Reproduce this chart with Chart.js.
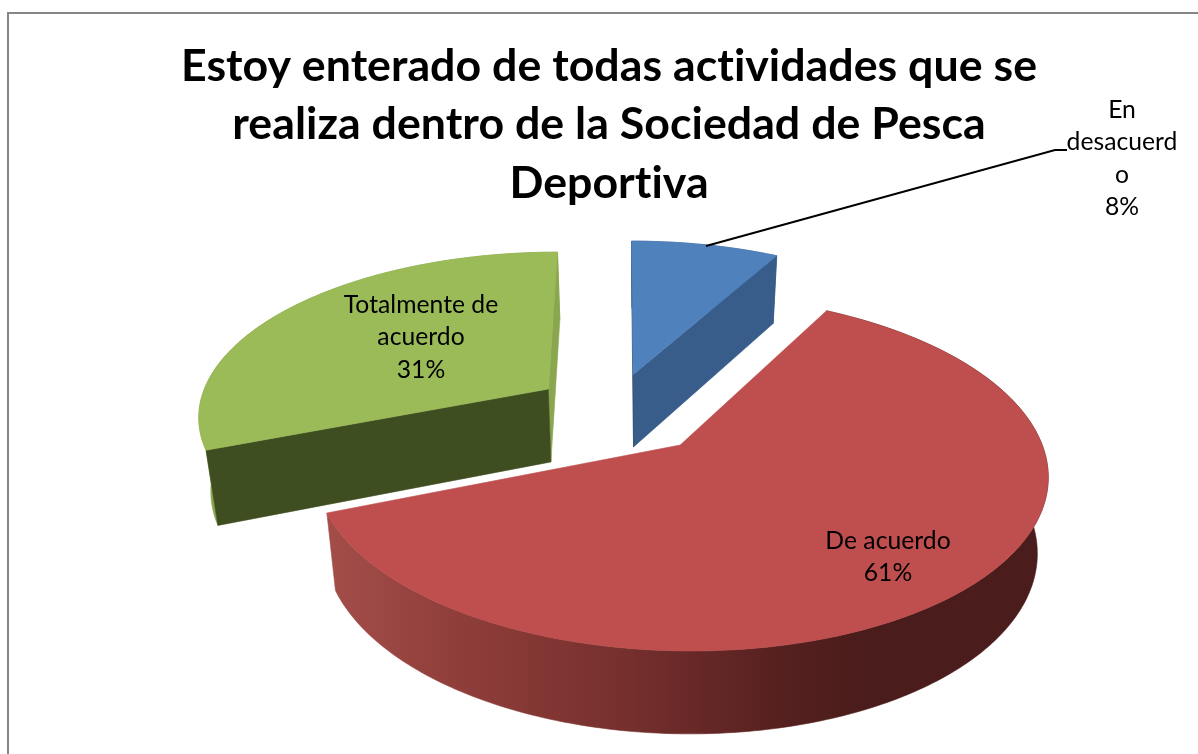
<!DOCTYPE html>
<html><head><meta charset="utf-8">
<style>
html,body{margin:0;padding:0;background:#fff;overflow:hidden}
#frame{position:absolute;left:7px;top:12px;width:1191px;height:742px;border-left:2px solid #868686;border-top:2px solid #868686;box-sizing:border-box}
canvas{position:absolute;left:0;top:0}
</style>
<script src="https://cdn.jsdelivr.net/npm/chart.js@4/dist/chart.umd.min.js"></script>
</head><body>
<div id="frame"></div>
<canvas id="c" width="1198" height="754"></canvas>
<script>
const categories = ["En desacuerdo", "De acuerdo", "Totalmente de acuerdo"];
const values = [8, 61, 31];
const percentLabels = ["8%", "61%", "31%"];
const wrappedNames = [["En", "desacuerd", "o"], ["De acuerdo"], ["Totalmente de", "acuerdo"]];
const titleLines = ["Estoy enterado de todas actividades que se", "realiza dentro de la Sociedad de Pesca", "Deportiva"];
const explode = [23, 27.9, 23];
const topColors = ["#4F81BD", "#BE4F4E", "#9BBB59"];
const startWallColors = ["#2F4D73", null, "#3F4E21"];
const endWallColors = ["#385D8A", null, "#8AA64F"];
const sideWallColors = ["#385D8A", null, "#8AA64F"];
const labelAnchors = [[1122, 110], [888, 541], [421, 305]];

// perspective of the pie plane, fitted to the picture
const P = {p:.155, k:1122.6, hx:620, hy:-677.6, R:362, ax:60, ou:.184, ov:-.209, wallA:32, wallB:43, vx:645, vs:.027};
function project(u, v){
  const V = v - P.ov, U = u - P.ou, w = 1 + P.p * V;
  return {x: P.hx + (P.ax + P.R * U) / w, y: P.hy + P.k / w, w};
}
function lower(pt){
  return {x: pt.x + (P.vx - pt.x) * P.vs, y: pt.y + P.wallA + P.wallB / pt.w};
}
function fillPoly(ctx, pts, fill){
  ctx.beginPath();
  pts.forEach((q,i)=> i ? ctx.lineTo(q.x,q.y) : ctx.moveTo(q.x,q.y));
  ctx.closePath();
  ctx.fillStyle = fill; ctx.fill();
  ctx.strokeStyle = fill; ctx.lineWidth = .6; ctx.stroke();
}
function redWall(ctx){
  const g = ctx.createLinearGradient(330,0,1045,0);
  g.addColorStop(0,"#A34D49"); g.addColorStop(.18,"#8F3E3A"); g.addColorStop(.42,"#752F2D");
  g.addColorStop(.62,"#572120"); g.addColorStop(.74,"#4A1C1B"); g.addColorStop(1,"#4A1C1B");
  return g;
}
const pie3d = {
  id:"pie3d",
  beforeDraw(chart){ chart.ctx.letterSpacing = "0.02px"; },
  beforeDatasetDraw(chart, args){
    const ctx = chart.ctx;
    const arcs = chart.getDatasetMeta(args.index).data;
    arcs.forEach((arc,i)=>{
      const mid = (arc.startAngle + arc.endAngle) / 2;
      const off = arc.options.offset / 100;
      const cu = off * Math.cos(mid), cv = -off * Math.sin(mid);
      const n = Math.max(8, Math.round((arc.endAngle - arc.startAngle) * 60));
      const rim = [];
      for(let k=0;k<=n;k++){
        const a = arc.startAngle + (arc.endAngle - arc.startAngle) * k / n;
        rim.push(project(cu + Math.cos(a), cv - Math.sin(a)));
      }
      const apex = project(cu, cv);
      const first = rim[0], last = rim[n];
      fillPoly(ctx, rim.concat(rim.map(lower).reverse()), sideWallColors[i] || redWall(ctx));
      if(endWallColors[i]) fillPoly(ctx, [apex, last, lower(last), lower(apex)], endWallColors[i]);
      if(startWallColors[i]) fillPoly(ctx, [apex, first, lower(first), lower(apex)], startWallColors[i]);
      fillPoly(ctx, [apex].concat(rim), arc.options.backgroundColor);
    });
    return false;
  },
  afterDatasetsDraw(chart){
    const ctx = chart.ctx;
    ctx.save();
    ctx.strokeStyle = "#000"; ctx.lineWidth = 2;
    ctx.beginPath(); ctx.moveTo(706,246); ctx.lineTo(1055,150); ctx.lineTo(1067,150); ctx.stroke();
    ctx.fillStyle = "#000"; ctx.textAlign = "center"; ctx.textBaseline = "middle";
    ctx.font = "24.7px Lato";
    values.forEach((val,i)=>{
      const lines = wrappedNames[i].concat(percentLabels[i]);
      lines.forEach((t,j)=> ctx.fillText(t, labelAnchors[i][0], labelAnchors[i][1] + j * 32.5));
    });
    ctx.restore();
  }
};
new Chart(document.getElementById("c"), {
  type:"pie",
  data:{labels:categories, datasets:[{data:values, backgroundColor:topColors, offset:explode, borderWidth:0, hoverOffset:0}]},
  options:{
    responsive:false, animation:false, rotation:0,
    layout:{padding:{left:20,top:37}},
    events:[],
    plugins:{
      legend:{display:false}, tooltip:{enabled:false},
      title:{display:true, text:titleLines, color:"#000", padding:0, font:{family:"Lato", weight:"bold", size:44.7, lineHeight:1.31}}
    }
  },
  plugins:[pie3d]
});
</script>
</body></html>
